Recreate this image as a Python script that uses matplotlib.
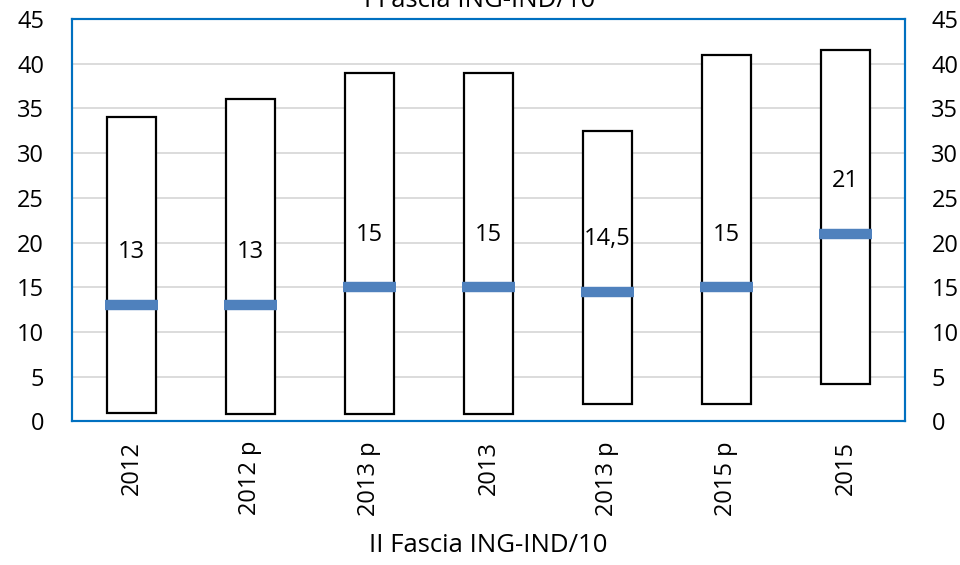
import matplotlib.pyplot as plt
import numpy as np

categories = ['2012', '2012 p', '2013 p', '2013', '2013 p', '2015 p', '2015']
lows = [1, 0.8, 0.8, 0.8, 2, 2, 4.2]
highs = [34, 36, 39, 39, 32.5, 41, 41.5]
medians = [13, 13, 15, 15, 14.5, 15, 21]
median_labels = ['13', '13', '15', '15', '14,5', '15', '21']
yticks = [0, 5, 10, 15, 20, 25, 30, 35, 40, 45]

plt.rcParams['font.family'] = ['Open Sans', 'DejaVu Sans']
blue_frame = '#0070C0'
blue_mark = '#4F81BD'

fig = plt.figure(figsize=(9.6, 5.65), dpi=100)
ax = fig.add_axes([0.075, 0.254, 0.8677, 0.7126])
x = np.arange(len(categories))

ax.bar(x, np.array(highs) - np.array(lows), bottom=lows, width=0.41,
       color='white', edgecolor='black', linewidth=1.6, zorder=3)
ax.hlines(medians, x - 0.225, x + 0.225, colors=blue_mark, linewidth=7.5, zorder=4)
for xi, m, lab in zip(x, medians, median_labels):
    ax.annotate(lab, (xi, m), xytext=(0, 38), textcoords='offset points',
                ha='center', va='center', fontsize=17, zorder=5)

ax.set_xlim(-0.5, len(categories) - 0.5)
ax.set_ylim(0, 45)
ax.set_yticks(yticks)
ax.set_xticks(x)
ax.set_xticklabels(categories, rotation=90, fontsize=17)
ax.tick_params(axis='y', length=0, pad=20, labelsize=17)
ax.tick_params(axis='x', length=0, pad=14)
ax.grid(axis='y', color='#d9d9d9', linewidth=1.3, zorder=0)
ax.set_axisbelow(True)

ax2 = ax.twinx()
ax2.set_ylim(0, 45)
ax2.set_yticks(yticks)
ax2.tick_params(axis='y', length=0, pad=19, labelsize=17)

for a in (ax, ax2):
    for s in a.spines.values():
        s.set_color(blue_frame)
        s.set_linewidth(1.5)

ax.set_xlabel('II Fascia ING-IND/10', fontsize=18.5, va='center')
ax.xaxis.set_label_coords(0.5, -0.307)
fig.text(0.5, 1 - 7 / 565, 'I Fascia ING-IND/10', ha='center', va='baseline', fontsize=18.5)

fig.savefig('out.png', dpi=100)
